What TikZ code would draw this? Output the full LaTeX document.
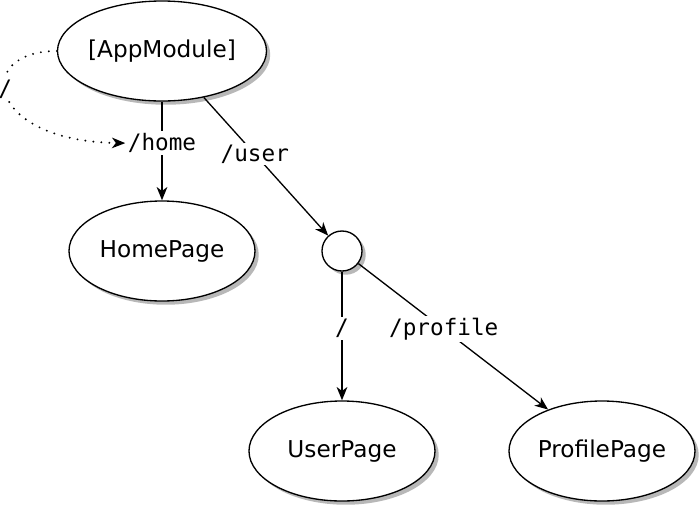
\documentclass[tikz,border=0pt]{standalone}
\usepackage{fontspec}
\setmainfont{DejaVu Sans}
\setmonofont{DejaVu Sans Mono}
\usetikzlibrary{shapes.geometric,shadows,arrows.meta}
\usetikzlibrary{positioning}

\tikzset{
  route/.style={ellipse,draw,fill=white,line width=1pt,minimum width=139.5pt,minimum height=75pt,inner sep=0pt,
    font=\fontsize{17.4}{20}\selectfont,
    drop shadow={shadow xshift=2.8pt,shadow yshift=-2.8pt,fill=black!28,opacity=1}},
  hub/.style={circle,draw,fill=white,line width=1pt,minimum size=30pt,inner sep=0pt,
    drop shadow={shadow xshift=2.8pt,shadow yshift=-2.8pt,fill=black!28,opacity=1}},
  lbl/.style={fill=white,inner sep=1.5pt,font=\ttfamily\fontsize{17}{20}\selectfont},
  link/.style={line width=1pt,-{Stealth[length=10pt,width=8pt,inset=3pt]}}
}

\begin{document}
\begin{tikzpicture}[x=0.75pt,y=0.75pt,yscale=-1,xscale=1]
\useasboundingbox (0,0) rectangle (700,508);

% Nodes
\node[route] (app) at (162,51) {[AppModule]};
\node[route] (home) at (162,251) {HomePage};
\node[hub] (user) at (342,251) {};
\node[route] (userpage) at (342,451) {UserPage};
\node[route] (profile) at (602,451) {ProfilePage};

% Edges
\draw[link] (app) -- node[lbl,pos=0.42] (homelbl) {/home} (home);
\draw[link] (app) -- node[lbl,pos=0.41] (userlbl) {/user} (user);
\draw[link] (user) -- node[lbl,pos=0.44] (rootlbl) {/} (userpage);
\draw[link] (user) -- node[lbl,pos=0.45] (profilelbl) {/profile} (profile);

% redirect loop
\draw[line width=1.6pt,dash pattern=on 0pt off 6pt,line cap=round,-{Stealth[length=10pt,width=8pt,inset=3pt,line width=1pt]}] (app.west) .. controls (-27,51) and (-14,141) .. node[lbl,pos=0.45] (redirlbl) {/} (homelbl.west);

\end{tikzpicture}
\end{document}
